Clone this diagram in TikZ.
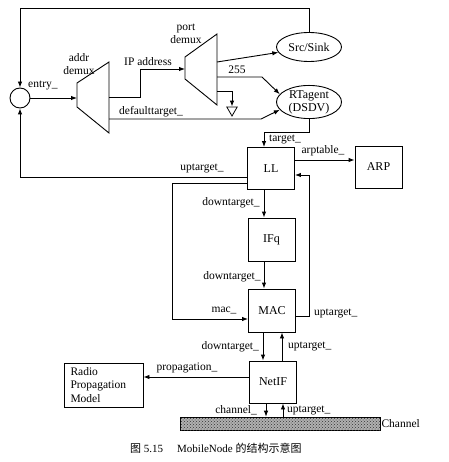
\documentclass[tikz,border=0pt]{standalone}
\usepackage{fontspec}
\setmainfont{Liberation Serif}
\newfontfamily\cjk{Noto Sans CJK SC}
\usetikzlibrary{arrows.meta,patterns,shapes.geometric}
\begin{document}
\begin{tikzpicture}[x=1pt,y=-1pt,
  line/.style={draw, line width=0.9pt},
  arr/.style={line, -{Latex[length=6pt,width=4.5pt]}},
  box/.style={draw, line width=0.9pt, minimum width=47pt, minimum height=42pt, inner sep=0pt, font=\fontsize{12}{13}\selectfont},
  ell/.style={draw, ellipse, line width=0.9pt, minimum width=65pt, minimum height=29pt, inner sep=0pt, font=\fontsize{12}{13}\selectfont, align=center},
  lbl/.style={font=\fontsize{11.5}{13}\selectfont, inner sep=1pt},
  trap/.style={draw, line width=0.9pt}]
\useasboundingbox (0,0) rectangle (448,462);

% nodes
\node[draw, circle, line width=0.9pt, minimum size=20pt, inner sep=0pt] (entry) at (20,98) {};
\node[ell] (src) at (309,47) {Src/Sink};
\node[ell] (rt) at (309,102) {RTagent\\(DSDV)};
\node[box] (LL) at (271,168.5) {LL};
\node[box] (ARP) at (378.5,167) {ARP};
\node[box, minimum height=43pt] (IFq) at (271.5,239.5) {IFq};
\node[box, minimum height=43pt] (MAC) at (272,310.5) {MAC};
\node[box] (NetIF) at (273,382) {NetIF};
\node[box, minimum width=79pt, minimum height=44pt, align=left, text width=66pt, font=\fontsize{11.5}{13.5}\selectfont] (radio) at (103.5,385) {Radio\\Propagation\\Model};
\node[draw, line width=0.6pt, fill=gray!62, minimum width=200pt, minimum height=13pt, inner sep=0pt,
      postaction={pattern=crosshatch dots, pattern color=black!80}] (chan) at (280,423.5) {};
\node[lbl, anchor=west] (chanlbl) at (chan.east) {Channel};

% demux trapezoids
\draw[trap] (77,83) -- (109,62) -- (109,133) -- (77,107) -- cycle;
\draw[trap] (185,57) -- (217,34) -- (217,105) -- (185,79) -- cycle;
\node[lbl, align=center] (addrlbl) at (79,64) {addr\\demux};
\node[lbl, align=center] (portlbl) at (186,34) {port\\demux};
\coordinate (addrin) at (77,98);
\coordinate (addrout1) at (109,97);
\coordinate (addrout2) at (109,119);
\coordinate (portin) at (185,69);
\coordinate (portout1) at (217,62);
\coordinate (portout2) at (217,77);
\coordinate (portout3) at (217,91);
\coordinate (topleft) at (20,8);

% null sink triangle
\node[draw, line width=0.8pt, regular polygon, regular polygon sides=3, shape border rotate=180, minimum size=12pt, inner sep=0pt] (null) at (232,110) {};

% connectors
\draw[arr] (src.north) |- (topleft) -- (entry.north);
\node[lbl, anchor=west] (entrylbl) at (27,86) {entry\_};
\draw[arr] (entry.east) -- (addrin);
\draw[arr] (addrout1) -- (140,97) |- (portin);
\node[lbl] (iplbl) at (148,62) {IP address};
\draw[arr] (addrout2) -- (261,119) -- (rt.195);
\node[lbl] (deflbl) at (151,112) {defaulttarget\_};
\draw[arr] (portout1) -- (src.190);
\draw[arr] (portout2) -- (262,77) -- (rt.165);
\node[lbl] (lbl255) at (237,70) {255};
\draw[arr] (portout3) -| (null.north);

\draw[arr] (rt.south) -- ++(0,13) -| ([xshift=-7pt]LL.north);
\node[lbl] (tgtlbl) at (285,140) {target\_};
\draw[arr] ([yshift=8.5pt]LL.east) -- ([yshift=7pt]ARP.west);
\node[lbl] (arplbl) at (323,151) {arptable\_};
\draw[arr] ([yshift=-8.5pt]LL.west) -| (entry.south);
\node[lbl] (up1) at (202,169) {uptarget\_};
\draw[arr] ([yshift=-14.5pt]LL.west) -- (172,183) |- ([yshift=-8.5pt]MAC.west);
\node[lbl] (maclbl) at (224,311) {mac\_};
\draw[arr] ([xshift=-7pt]LL.south) -- ([xshift=-7.5pt]IFq.north);
\node[lbl] (dn1) at (231,203) {downtarget\_};
\draw[arr] ([xshift=-7.5pt]IFq.south) -- ([xshift=-8pt]MAC.north);
\node[lbl] (dn2) at (232,277) {downtarget\_};
\draw[arr] ([yshift=-5.5pt]MAC.east) -- (309,316) |- ([yshift=-6.5pt]LL.east);
\node[lbl, anchor=west] (up2) at (313,314) {uptarget\_};
\draw[arr] ([xshift=-9pt]MAC.south) -- ([xshift=-10pt]NetIF.north);
\node[lbl, anchor=east] (dn3) at (260,347) {downtarget\_};
\draw[arr] ([xshift=9pt]NetIF.north) -- ([xshift=10pt]MAC.south);
\node[lbl, anchor=west] (up3) at (287,347) {uptarget\_};
\draw[arr] ([yshift=5pt]NetIF.west) -- ([yshift=8pt]radio.east);
\node[lbl] (proplbl) at (187,368) {propagation\_};
\draw[arr] ([xshift=-7pt]NetIF.south) -- ([xshift=-7pt]NetIF.south |- chan.north);
\node[lbl, anchor=east] (chlbl) at (258,410) {channel\_};
\draw[arr] ([xshift=10pt]NetIF.south |- chan.north) -- ([xshift=10pt]NetIF.south);
\node[lbl, anchor=west] (up4) at (286,410) {uptarget\_};

% caption
\node[anchor=west, inner sep=0pt, font=\fontsize{11}{12}\selectfont] (cap) at (130,448) {{\cjk 图} 5.15\hspace{14pt}MobileNode {\cjk 的结构示意图}};
\end{tikzpicture}
\end{document}
